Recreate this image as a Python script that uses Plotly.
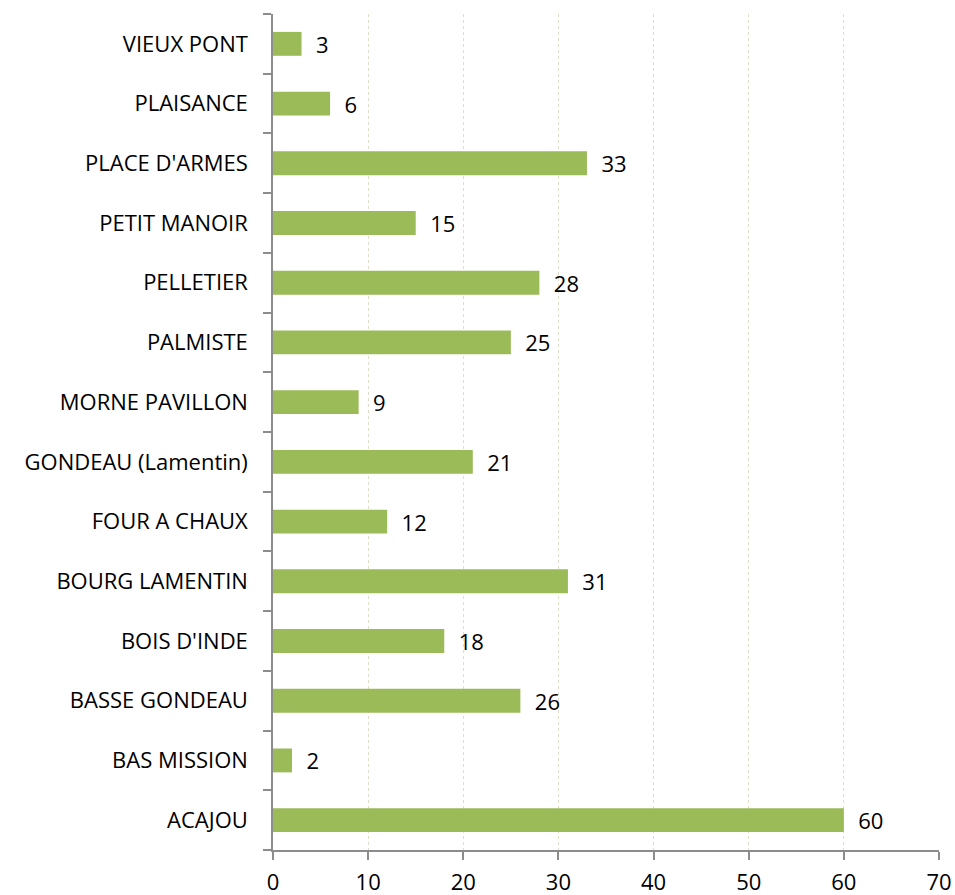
import plotly.graph_objects as go

categories = ["ACAJOU", "BAS MISSION", "BASSE GONDEAU", "BOIS D'INDE", "BOURG LAMENTIN",
              "FOUR A CHAUX", "GONDEAU (Lamentin)", "MORNE PAVILLON", "PALMISTE",
              "PELLETIER", "PETIT MANOIR", "PLACE D'ARMES", "PLAISANCE", "VIEUX PONT"]
values = [60, 2, 26, 18, 31, 12, 21, 9, 25, 28, 15, 33, 6, 3]
x_ticks = [0, 10, 20, 30, 40, 50, 60, 70]

FONT = "Open Sans"
FS = 22

fig = go.Figure()
fig.add_trace(go.Bar(
    x=values, y=categories, orientation="h",
    marker=dict(color="#9BBB59", line=dict(width=0)),
    width=0.4,
    text=[f"  {v}" for v in values],
    textposition="outside",
    textfont=dict(family=FONT, size=FS, color="#000000"),
    cliponaxis=False,
    hoverinfo="x+y",
))

fig.update_layout(
    width=955, height=895,
    margin=dict(l=273, r=16, t=14, b=45, autoexpand=False),
    paper_bgcolor="white", plot_bgcolor="white",
    showlegend=False,
    font=dict(family=FONT, size=FS, color="#000000"),
    uniformtext=dict(minsize=FS, mode="show"),
)
fig.update_xaxes(
    range=[0, 70], tickvals=x_ticks, ticktext=[str(t) for t in x_ticks],
    showgrid=True, gridcolor="#e2dccb", griddash="dot", gridwidth=1,
    zeroline=False, automargin=False,
    showline=True, linecolor="#8c8c8c", linewidth=1.5,
    ticks="outside", ticklen=8, tickcolor="#8c8c8c", tickwidth=1.5,
    ticklabelstandoff=4,
    tickfont=dict(family=FONT, size=FS, color="#000000"),
)
fig.update_yaxes(
    categoryorder="array", categoryarray=categories,
    range=[-0.5, len(categories) - 0.5],
    showgrid=False, zeroline=False, automargin=False,
    showline=True, linecolor="#8c8c8c", linewidth=1.5,
    ticks="outside", ticklen=8, tickcolor="#8c8c8c", tickwidth=1.5,
    tickson="boundaries",
    ticklabelstandoff=19,
    tickfont=dict(family=FONT, size=FS, color="#000000"),
)

fig.write_html(
    "out.html",
    config={"displayModeBar": False},
    post_script="document.body.style.margin='0';document.body.style.overflow='hidden';",
)
